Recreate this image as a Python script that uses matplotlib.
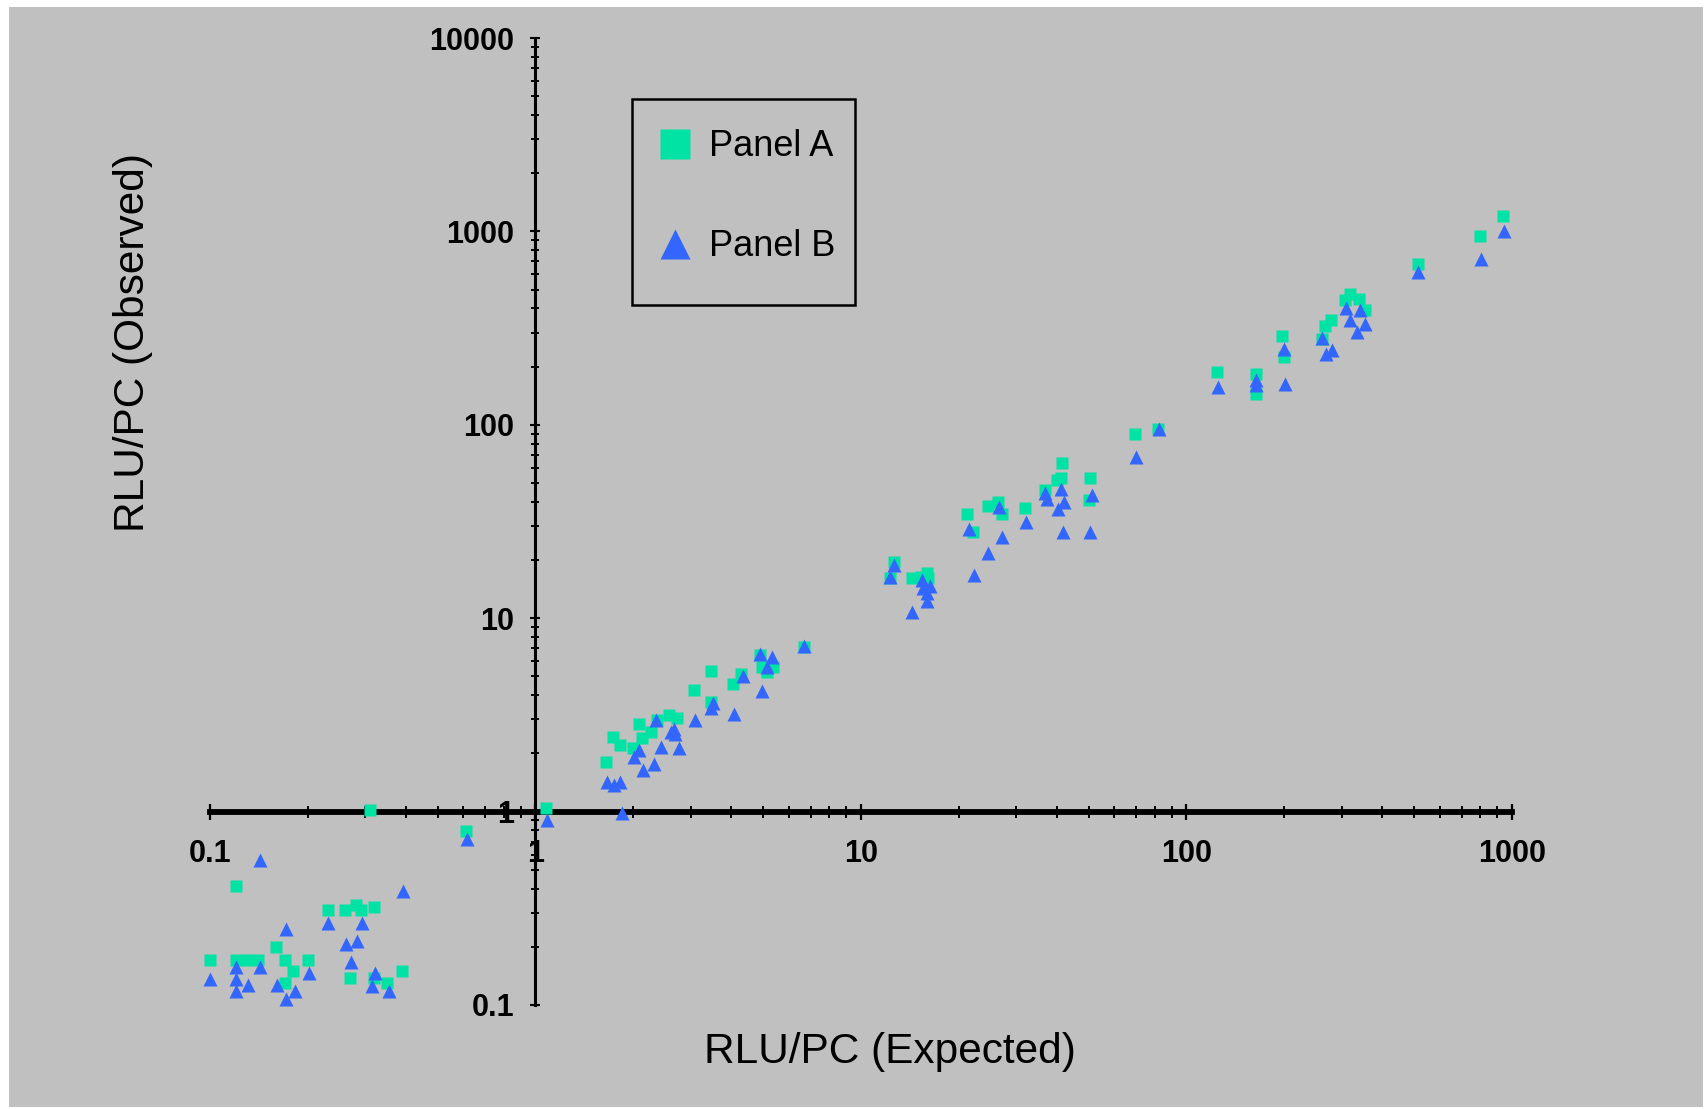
import numpy as np
import matplotlib.pyplot as plt
from matplotlib.lines import Line2D
from matplotlib.patches import Rectangle
from matplotlib.ticker import FixedLocator, NullFormatter

# ---- datos ----
# Panel A (cuadrados verdes)
a_exp = [0.31, 0.61, 1.08, 0.12, 0.23, 0.26, 0.28, 0.29, 0.32, 0.16, 0.10, 0.12,
         0.13, 0.14, 0.17, 0.20, 0.18, 0.17, 0.27, 0.32, 0.35, 0.39,
         1.65, 1.73, 1.82, 2.0, 2.08, 2.13, 2.27, 2.37, 2.57, 2.73, 3.06, 3.47,
         3.45, 4.03, 4.29, 4.89, 4.97, 5.15, 5.37, 6.67,
         12.6, 12.3, 14.3, 15.3, 16.0, 16.1, 21.2, 22.1, 24.5, 26.4, 27.1, 31.9,
         36.7, 39.9, 41.3, 41.5, 50.7, 50.1, 69.4, 81.8,
         124, 163, 163, 197, 200, 261, 267, 277, 306, 319, 338, 353, 515, 797, 939]
a_obs = [1.02, 0.79, 1.05, 0.41, 0.31, 0.31, 0.33, 0.31, 0.32, 0.20, 0.17, 0.17,
         0.17, 0.17, 0.17, 0.17, 0.15, 0.13, 0.138, 0.138, 0.13, 0.15,
         1.81, 2.42, 2.2, 2.13, 2.84, 2.4, 2.58, 2.96, 3.17, 3.05, 4.27, 5.36,
         3.67, 4.56, 5.16, 6.47, 5.62, 5.24, 5.62, 7.13,
         19.6, 16.1, 16.1, 16.4, 17.1, 16.1, 34.5, 27.8, 38.0, 40.0, 34.4, 37.2,
         45.9, 51.8, 52.8, 63.1, 52.8, 40.8, 89.4, 94.6,
         188, 184, 144, 288, 224, 279, 324, 347, 440, 472, 449, 391, 675, 944, 1199]

# Panel B (triangulos azules)
b_exp = [0.142, 1.086, 0.618, 1.84, 0.393, 0.171, 0.231, 0.294, 0.262, 0.283, 0.272,
         0.10, 0.12, 0.12, 0.12, 0.131, 0.142, 0.161, 0.171, 0.182, 0.201, 0.321,
         0.314, 0.355,
         1.66, 1.74, 1.82, 2.01, 2.08, 2.14, 2.31, 2.34, 2.43, 2.6, 2.66, 2.68, 2.76,
         3.09, 3.45, 3.5, 4.07, 4.33, 4.89, 4.97, 5.16, 5.34, 6.7,
         14.3, 15.9, 12.6, 12.3, 15.4, 16.3, 15.5, 16.0, 21.4, 22.2, 24.6, 26.6,
         27.2, 32.1, 36.7, 37.3, 41.3, 42.0, 40.3, 41.8, 50.4, 51.1, 69.9, 82.3,
         125, 164, 164, 201, 199, 261, 269, 279, 309, 317, 341, 333, 353, 515, 802, 944]
b_obs = [0.565, 0.91, 0.72, 0.98, 0.39, 0.246, 0.266, 0.266, 0.206, 0.214, 0.166,
         0.137, 0.158, 0.137, 0.118, 0.127, 0.158, 0.127, 0.108, 0.118, 0.147, 0.147,
         0.126, 0.118,
         1.43, 1.37, 1.43, 1.91, 2.09, 1.65, 1.76, 2.98, 2.17, 2.57, 2.67, 2.52, 2.13,
         2.98, 3.45, 3.64, 3.2, 5.04, 6.54, 4.18, 5.62, 6.29, 7.22,
         10.8, 12.2, 18.8, 16.4, 15.8, 14.6, 14.3, 13.5, 28.8, 16.7, 21.7, 37.4,
         26.2, 31.5, 44.2, 41.3, 46.3, 40.0, 36.5, 28.0, 28.0, 43.3, 67.8, 94.6,
         156, 170, 160, 163, 246, 282, 233, 245, 403, 347, 394, 302, 333, 615, 716, 1002]

x_ticks = [0.1, 1, 10, 100, 1000]
x_labels = ['0.1', '1', '10', '100', '1000']
y_ticks = [0.1, 1, 10, 100, 1000, 10000]
y_labels = ['0.1', '1', '10', '100', '1000', '10000']

verde = '#00E3A4'
azul = '#3366FF'
gris = '#C0C0C0'

plt.rcParams['font.family'] = ['Liberation Sans', 'DejaVu Sans']

fig = plt.figure(figsize=(17.06, 11.09), dpi=100)
fig.patch.set_facecolor('white')
fig.patches.append(Rectangle((9/1706, 2/1109), 1694/1706, 1100/1109,
                             transform=fig.transFigure, facecolor=gris,
                             edgecolor='none', zorder=-10))

ax = fig.add_axes([210/1706, 104/1109, 1302/1706, 967/1109])
ax.set_facecolor('none')
ax.set_xscale('log')
ax.set_yscale('log')
ax.set_xlim(0.1, 1000)
ax.set_ylim(0.1, 10000)

ax.plot(a_exp, a_obs, 's', color=verde, ms=8, mec='none', clip_on=False, zorder=3)
ax.plot(b_exp, b_obs, '^', color=azul, ms=10.5, mec='none', clip_on=False, zorder=4)

# ejes cruzando en (1,1)
ax.spines['top'].set_visible(False)
ax.spines['right'].set_visible(False)
ax.spines['left'].set_position(('data', 1))
ax.spines['bottom'].set_position(('data', 1))
ax.spines['left'].set_linewidth(2.2)
ax.spines['bottom'].set_linewidth(4.2)

ax.xaxis.set_major_locator(FixedLocator(x_ticks))
ax.set_xticklabels(x_labels)
ax.yaxis.set_major_locator(FixedLocator(y_ticks))
ax.set_yticklabels(y_labels)
menores_x = [m * d for d in [0.1, 1, 10, 100] for m in range(2, 10)]
menores_y = [m * d for d in [0.1, 1, 10, 100, 1000] for m in range(2, 10)]
ax.xaxis.set_minor_locator(FixedLocator(menores_x))
ax.yaxis.set_minor_locator(FixedLocator(menores_y))
ax.xaxis.set_minor_formatter(NullFormatter())
ax.yaxis.set_minor_formatter(NullFormatter())

ax.tick_params(axis='x', which='major', direction='inout', length=12, width=1.6,
               pad=14, labelsize=22)
ax.tick_params(axis='x', which='minor', direction='inout', length=9, width=1.4)
ax.tick_params(axis='y', which='major', direction='inout', length=7, width=1.5,
               pad=12, labelsize=22)
ax.tick_params(axis='y', which='minor', direction='inout', length=5.5, width=1.4)
for t in ax.get_xticklabels() + ax.get_yticklabels():
    t.set_fontweight('bold')

fig.text(890/1706, 1 - 1052/1109, 'RLU/PC (Expected)', fontsize=30.5,
         ha='center', va='center')
fig.text(133/1706, 1 - 343/1109, 'RLU/PC (Observed)', fontsize=30.5,
         ha='center', va='center', rotation=90)

# leyenda: recuadro aparte y entradas sin marco
fig.patches.append(Rectangle((632/1706, 1 - 305/1109), 223/1706, 206/1109,
                             transform=fig.transFigure, facecolor='none',
                             edgecolor='black', linewidth=1.8, zorder=5))
handles = [Line2D([], [], ls='none', marker='s', color=verde, ms=21.5, mec='none'),
           Line2D([], [], ls='none', marker='^', color=azul, ms=22, mec='none')]
leg = ax.legend(handles, ['Panel A', 'Panel B'], loc='upper left',
                bbox_to_anchor=(657/1706, 1 - 129.5/1109), bbox_transform=fig.transFigure,
                fontsize=26, frameon=False, borderpad=0, labelspacing=1.79,
                handlelength=1.0, handletextpad=0.45, borderaxespad=0)

fig.savefig('out.png', dpi=100, facecolor=fig.get_facecolor())
